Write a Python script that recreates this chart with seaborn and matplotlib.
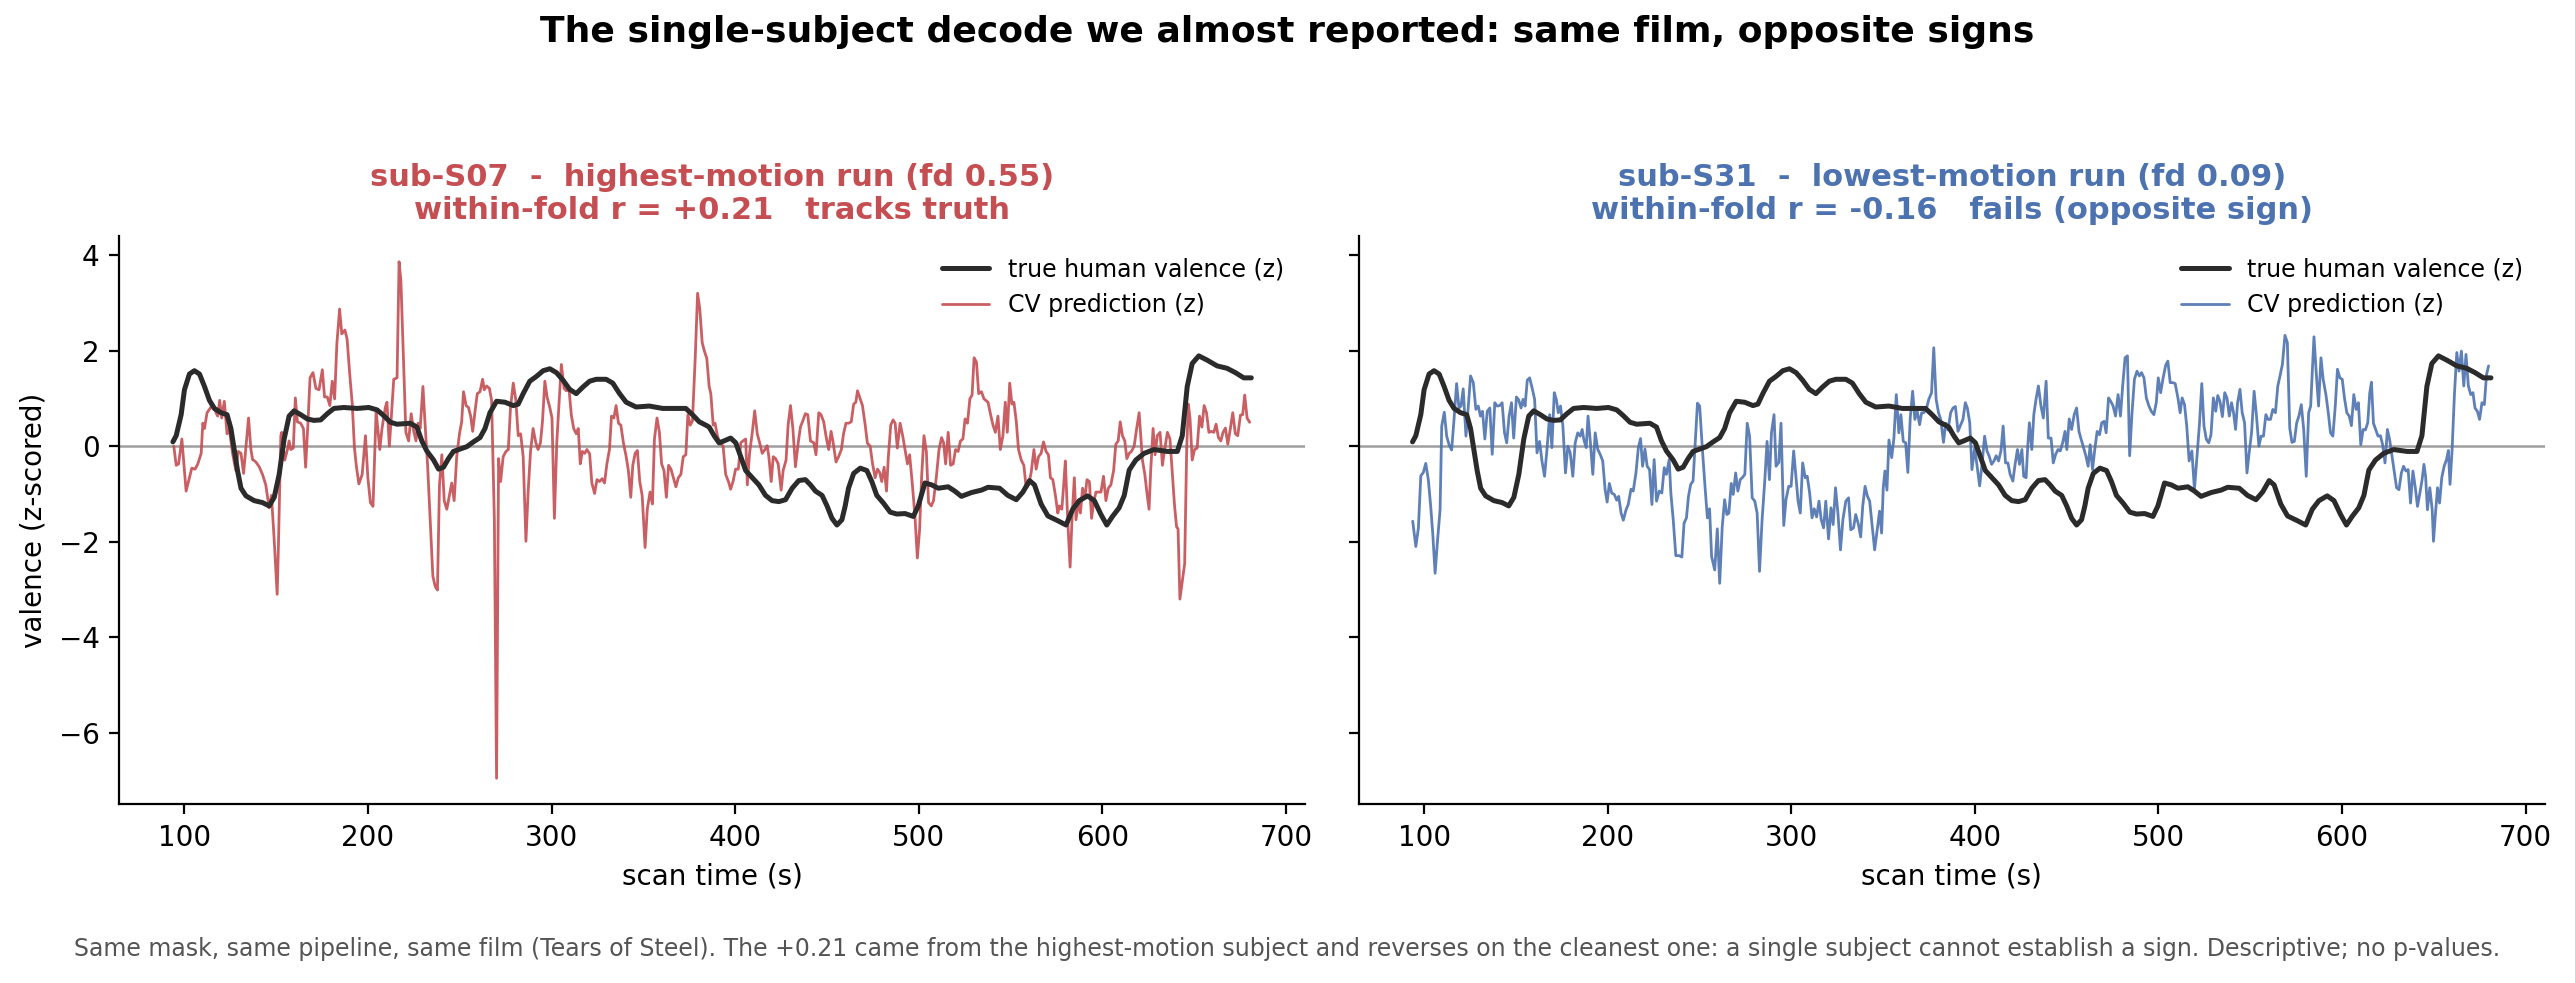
import matplotlib
matplotlib.use("Agg")
import matplotlib.pyplot as plt
import pandas as pd
import seaborn as sns


# true human valence (z), shared by both panels
true_t = [93.7, 95.5, 98.2, 100.0, 102.7, 105.4, 108.2, 110.9, 113.6, 116.3, 119.9, 123.2, 125.3, 127.1,
	128.9, 130.8, 133.5, 138.0, 142.5, 146.1, 148.9, 151.6, 154.3, 157.0, 159.7, 163.3, 166.9, 170.5,
	174.2, 177.8, 181.4, 186.8, 194.1, 200.4, 204.9, 208.5, 212.2, 215.8, 223.0, 226.6, 229.3, 232.0,
	235.7, 238.4, 241.1, 243.8, 246.5, 250.1, 253.8, 257.4, 261.0, 263.7, 266.4, 270.0, 274.6, 279.1,
	281.8, 284.5, 288.1, 291.7, 295.4, 299.0, 302.6, 306.2, 309.8, 313.4, 317.1, 320.7, 324.3, 329.7,
	333.3, 337.0, 340.6, 346.0, 353.2, 360.5, 367.7, 373.1, 376.7, 380.4, 384.0, 385.8, 388.5, 391.2,
	393.9, 397.5, 400.3, 403.0, 405.7, 409.3, 412.9, 416.5, 420.1, 423.8, 427.4, 431.0, 434.6, 438.2,
	441.0, 443.7, 447.3, 450.0, 452.7, 455.4, 458.1, 459.9, 461.7, 464.5, 468.1, 471.7, 474.4, 477.1,
	480.7, 484.4, 488.0, 492.5, 497.0, 499.7, 503.3, 507.0, 510.6, 516.0, 519.6, 523.2, 528.7, 534.1,
	537.7, 544.0, 548.5, 553.1, 556.7, 560.3, 563.0, 566.6, 570.3, 575.7, 580.2, 583.8, 587.4, 591.9,
	595.6, 599.2, 602.4, 605.5, 609.1, 611.9, 614.6, 618.2, 622.7, 628.1, 635.4, 640.8, 643.5, 646.2,
	648.9, 652.5, 657.1, 662.5, 667.9, 672.4, 677.0, 681.1]
true_v = [0.09, 0.22, 0.66, 1.18, 1.51, 1.58, 1.51, 1.25, 0.96, 0.79, 0.70, 0.66, 0.37, -0.07,
	-0.51, -0.88, -1.04, -1.14, -1.18, -1.25, -1.07, -0.59, 0.15, 0.63, 0.74, 0.66, 0.57, 0.54,
	0.55, 0.68, 0.79, 0.81, 0.79, 0.81, 0.76, 0.64, 0.50, 0.46, 0.48, 0.40, 0.11, -0.10,
	-0.29, -0.48, -0.44, -0.26, -0.11, -0.06, -0.01, 0.09, 0.18, 0.37, 0.70, 0.94, 0.92, 0.85,
	0.88, 1.10, 1.36, 1.46, 1.58, 1.62, 1.54, 1.38, 1.19, 1.10, 1.24, 1.36, 1.40, 1.40,
	1.32, 1.10, 0.92, 0.82, 0.84, 0.79, 0.79, 0.79, 0.66, 0.51, 0.44, 0.40, 0.22, 0.07,
	0.11, 0.17, 0.07, -0.22, -0.51, -0.66, -0.81, -1.03, -1.14, -1.16, -1.12, -0.88, -0.72, -0.70,
	-0.81, -0.94, -1.03, -1.25, -1.51, -1.65, -1.54, -1.25, -0.88, -0.57, -0.46, -0.51, -0.74, -1.03,
	-1.19, -1.38, -1.42, -1.41, -1.47, -1.25, -0.77, -0.81, -0.88, -0.85, -0.94, -1.05, -0.97, -0.92,
	-0.86, -0.88, -1.03, -1.12, -0.96, -0.72, -0.81, -1.21, -1.46, -1.56, -1.65, -1.32, -1.14, -1.04,
	-1.14, -1.43, -1.65, -1.47, -1.29, -1.03, -0.50, -0.29, -0.15, -0.07, -0.11, -0.11, 0.22, 1.25,
	1.73, 1.89, 1.80, 1.68, 1.63, 1.54, 1.43, 1.43]

# sub-S07 cross-validated prediction (z)
s07_t = [94.2, 95.5, 96.8, 98.6, 99.7, 100.9, 102.7, 104.0, 105.8, 107.3, 109.1, 110.0, 110.9, 112.3,
	114.5, 115.9, 117.2, 118.1, 119.2, 120.3, 121.7, 123.2, 124.4, 126.2, 128.0, 129.3, 130.8, 132.2,
	134.9, 136.2, 137.1, 138.9, 140.7, 142.5, 144.3, 146.1, 147.4, 148.8, 150.5, 151.2, 152.5, 153.0,
	154.6, 156.1, 157.0, 157.9, 159.3, 160.4, 161.5, 163.3, 164.8, 166.0, 167.3, 168.4, 170.0, 171.6,
	173.3, 175.1, 176.3, 177.8, 179.2, 180.5, 181.8, 183.0, 184.5, 185.7, 187.4, 188.6, 190.1, 191.4,
	192.6, 193.7, 195.0, 196.8, 198.6, 199.9, 201.3, 202.7, 204.4, 206.4, 207.6, 209.4, 210.3, 211.6,
	212.5, 214.0, 215.8, 216.9, 217.9, 219.0, 220.6, 222.1, 223.5, 224.8, 226.1, 227.2, 228.4, 229.9,
	231.1, 232.4, 235.3, 236.6, 237.8, 238.9, 240.2, 241.5, 242.9, 244.3, 245.6, 246.9, 248.3, 249.8,
	251.0, 252.0, 253.4, 254.7, 255.9, 257.0, 258.3, 259.5, 261.0, 262.4, 263.3, 264.6, 266.1, 267.3,
	268.8, 270.0, 271.1, 272.2, 273.6, 275.1, 276.4, 277.6, 279.1, 280.5, 281.8, 283.1, 284.5, 286.0,
	287.2, 288.5, 289.9, 291.4, 292.6, 293.9, 295.0, 296.3, 297.5, 299.0, 300.2, 301.5, 302.8, 304.0,
	305.3, 306.8, 308.0, 309.5, 310.7, 312.0, 313.4, 314.5, 315.6, 316.7, 318.0, 319.2, 320.7, 321.9,
	323.4, 324.7, 326.1, 327.5, 328.8, 330.1, 331.5, 332.6, 333.9, 335.1, 336.4, 337.7, 339.1, 340.6,
	341.8, 343.1, 344.2, 345.5, 346.7, 348.0, 349.3, 350.9, 352.1, 353.6, 354.9, 356.0, 357.4, 358.7,
	359.9, 361.2, 362.5, 363.7, 365.0, 366.3, 367.7, 369.0, 370.4, 371.7, 373.1, 374.2, 375.5, 376.7,
	378.2, 379.5, 380.7, 382.0, 383.2, 384.5, 385.8, 386.7, 388.0, 389.0, 390.3, 391.6, 393.4, 394.8,
	396.3, 397.5, 398.8, 400.2, 401.7, 403.0, 404.2, 405.7, 406.6, 407.8, 409.3, 410.6, 412.0, 413.3,
	414.7, 416.2, 417.4, 418.3, 419.6, 420.7, 422.0, 423.4, 425.0, 426.1, 427.7, 428.8, 430.1, 431.4,
	432.8, 434.3, 435.5, 437.0, 438.2, 439.5, 441.0, 442.8, 444.0, 445.5, 446.7, 448.2, 449.4, 450.9,
	452.2, 453.2, 454.9, 456.3, 457.8, 459.0, 460.3, 461.7, 463.2, 464.5, 465.7, 466.6, 468.1, 469.3,
	470.8, 472.0, 473.5, 474.8, 476.2, 477.5, 478.7, 479.8, 481.1, 482.4, 483.4, 484.7, 486.0, 487.1,
	488.3, 489.8, 491.2, 492.5, 493.8, 495.0, 496.5, 497.9, 499.2, 500.4, 501.5, 502.8, 504.1, 505.3,
	506.8, 508.0, 509.5, 511.0, 512.4, 513.5, 514.6, 516.0, 517.3, 518.7, 520.0, 521.4, 522.7, 524.0,
	525.2, 526.5, 527.8, 529.0, 530.1, 531.4, 532.6, 534.1, 535.5, 537.7, 539.1, 540.4, 541.7, 543.1,
	544.4, 545.8, 547.1, 548.2, 549.5, 550.7, 551.8, 553.1, 554.3, 555.8, 557.2, 558.5, 559.8, 561.2,
	562.7, 563.9, 565.2, 566.6, 567.9, 569.3, 570.6, 571.7, 573.0, 574.4, 575.7, 576.6, 577.9, 578.9,
	579.8, 581.1, 582.4, 583.5, 584.7, 585.6, 586.9, 588.0, 589.2, 590.5, 591.6, 592.9, 594.1, 595.2,
	596.5, 597.9, 599.2, 600.6, 601.9, 603.2, 604.6, 606.1, 607.3, 608.6, 609.7, 610.9, 612.2, 613.3,
	614.6, 615.8, 617.3, 618.5, 620.0, 620.9, 621.8, 623.1, 624.2, 625.4, 626.3, 627.6, 628.7, 629.9,
	631.4, 632.7, 633.9, 635.4, 636.8, 638.1, 639.3, 640.4, 641.2, 642.2, 643.5, 644.8, 645.9, 646.8,
	647.7, 648.9, 650.2, 651.6, 652.9, 654.2, 655.4, 656.7, 658.0, 659.4, 660.7, 661.9, 663.2, 664.5,
	665.7, 667.0, 668.3, 669.7, 671.0, 672.4, 673.7, 675.2, 676.4, 677.5, 678.8, 680.2]
s07_v = [0.00, -0.40, -0.37, 0.15, -0.37, -0.94, -0.66, -0.46, -0.48, -0.37, -0.15, 0.48, 0.37, 0.70,
	0.82, 0.85, 0.70, 0.63, 0.96, 0.59, 0.94, 0.26, 0.37, -0.15, -0.51, -0.11, -0.15, -0.57,
	0.59, -0.07, -0.28, -0.33, -0.43, -0.59, -0.81, -1.29, -1.03, -1.91, -3.10, -2.06, 0.22, 0.29,
	-0.29, -0.07, 0.11, -0.07, -0.04, 1.01, 0.51, 0.48, 0.37, -0.44, 0.51, 1.43, 1.54, 1.21,
	1.18, 1.60, 1.03, 1.03, 0.85, 1.36, 0.99, 2.13, 2.87, 2.35, 2.43, 2.24, 1.47, 0.88,
	-0.04, -0.44, -0.79, -0.59, 0.22, -0.66, -1.18, -1.26, 0.74, -0.07, 0.37, 0.81, 0.92, 0.00,
	0.51, 1.40, 1.43, 3.86, 3.46, 2.17, 0.29, 0.11, 0.68, 0.33, 0.11, 0.48, 0.37, 1.25,
	0.44, -0.37, -2.72, -2.94, -3.01, -0.81, -0.18, -1.14, -1.32, -1.03, -0.77, -1.14, -0.22, 0.26,
	0.51, 1.14, 0.85, 0.81, 0.63, 0.31, 0.74, 1.10, 1.14, 1.40, 1.18, 1.26, 1.21, 0.96,
	-1.54, -6.95, -0.26, -0.74, -0.22, -0.11, -0.07, 0.81, 1.32, 0.96, 0.22, 0.26, -0.22, -1.99,
	-0.96, -0.11, 0.37, 0.07, -0.07, 0.07, 0.51, 1.36, 1.03, 0.81, 0.59, -1.51, 0.07, 0.88,
	1.71, 1.21, 1.16, 1.18, 0.66, 0.37, 0.26, 0.37, -0.37, -0.11, -0.15, -0.07, -0.16, -0.77,
	-0.99, -0.70, -0.74, -0.68, -0.77, -0.37, -0.07, 0.63, 0.59, 0.85, 0.48, 0.44, 0.07, -0.22,
	-0.51, -1.07, -0.40, -0.15, -0.09, -0.74, -1.03, -2.12, -1.32, -0.96, -1.21, 0.15, 0.59, 0.29,
	-0.37, -0.51, -1.07, -0.40, -0.48, -0.66, -0.85, -0.66, -0.59, -0.22, -0.18, 0.66, 0.44, 0.53,
	1.84, 3.20, 2.87, 2.17, 1.99, 1.84, 1.25, 1.10, 0.44, 0.48, 0.22, 0.07, 0.00, -0.59,
	-0.74, -0.90, -0.74, -0.48, -0.48, 0.07, 0.11, 0.15, -0.81, -0.15, 0.29, 0.74, 0.26, 0.07,
	-0.15, -0.07, 0.01, -0.22, -0.74, -0.22, -0.26, -0.37, -0.92, -0.51, -0.29, 0.44, 0.85, 0.37,
	-0.43, 0.07, 0.40, 0.55, 0.68, 0.66, 0.11, 0.07, -0.18, 0.70, 0.66, 0.51, 0.22, -0.07,
	0.31, 0.11, -0.33, -0.22, -0.07, 0.26, 0.48, 0.48, 0.51, 0.88, 0.92, 1.16, 0.99, 0.85,
	0.44, 0.06, 0.00, -0.37, -0.66, -0.48, -0.55, -0.74, -0.44, -0.94, -0.22, 0.44, 0.55, 0.48,
	-0.04, 0.48, 0.22, -0.07, -0.37, -0.18, -0.81, -1.47, -2.34, -1.76, -0.66, 0.22, -0.11, -1.18,
	-1.25, -1.14, -0.66, -0.07, 0.18, 0.07, -0.37, 0.29, -0.40, -0.37, -0.07, -0.11, 0.11, 0.15,
	0.57, 0.48, 0.99, 1.07, 1.85, 1.76, 1.10, 1.14, 0.99, 0.92, 0.66, 0.44, 0.29, 0.63,
	-0.07, 0.22, 0.92, 0.29, 1.32, 0.88, 0.92, 0.51, -0.07, -0.29, -0.40, -0.88, -0.81, -0.55,
	-0.07, -0.48, -0.22, -0.15, 0.09, -0.11, -0.18, -0.66, -0.70, -1.03, -1.40, -1.25, -1.32, -0.81,
	-0.31, -1.54, -2.53, -1.47, -0.66, -1.54, -1.14, -1.40, -0.88, -1.07, -0.70, -0.74, -1.51, -1.18,
	-0.96, -0.96, -0.96, -0.63, -1.14, -0.88, -0.81, -0.51, 0.04, 0.11, 0.51, 0.22, 0.11, -0.26,
	-0.15, -0.11, 0.00, 0.33, 0.70, 0.22, -0.29, -0.59, -0.96, -1.32, -0.51, 0.37, -0.18, 0.22,
	0.29, -0.40, -0.07, 0.29, 0.15, -0.59, -1.25, -1.69, -1.73, -3.20, -2.83, -2.46, -0.07, 0.88,
	0.59, -0.29, -0.07, -0.04, 0.63, 0.40, 0.85, 0.70, 0.29, 0.31, 0.29, 0.46, 0.18, 0.11,
	0.29, 0.38, 0.04, 0.37, 0.70, 0.26, 0.22, 0.65, 0.66, 1.07, 0.59, 0.50]

# sub-S31 cross-validated prediction (z)
s31_t = [93.8, 95.5, 96.9, 98.2, 99.6, 100.9, 102.3, 103.6, 104.7, 106.0, 107.2, 108.7, 109.6, 111.0,
	112.3, 113.6, 115.0, 116.3, 117.7, 119.0, 120.1, 121.3, 122.8, 124.1, 125.3, 126.8, 128.2, 129.5,
	130.7, 131.8, 133.1, 134.4, 135.8, 137.1, 138.5, 139.8, 141.2, 142.5, 143.8, 145.0, 146.3, 147.6,
	148.8, 150.3, 151.5, 152.8, 153.9, 155.0, 156.2, 157.5, 159.0, 160.2, 161.5, 162.9, 164.2, 165.6,
	166.9, 168.4, 169.6, 170.9, 172.0, 173.1, 174.3, 175.6, 177.0, 178.3, 179.6, 181.0, 182.3, 183.7,
	185.0, 186.1, 187.0, 188.3, 189.3, 190.6, 191.9, 193.2, 194.6, 195.9, 197.3, 198.6, 199.7, 200.9,
	202.2, 203.6, 204.9, 206.0, 207.3, 208.5, 210.0, 211.2, 212.7, 213.9, 215.4, 216.7, 217.9, 219.0,
	220.3, 221.5, 222.8, 224.1, 225.3, 226.6, 228.1, 229.5, 230.8, 232.0, 233.5, 234.4, 235.7, 237.1,
	238.9, 240.4, 241.6, 242.9, 244.0, 245.2, 246.5, 247.6, 248.9, 250.1, 251.6, 253.0, 254.3, 255.5,
	256.6, 258.3, 259.7, 261.0, 262.4, 263.7, 264.9, 266.0, 267.3, 268.4, 269.7, 270.9, 272.2, 273.3,
	274.7, 276.0, 277.3, 278.7, 280.1, 281.4, 282.7, 284.1, 285.6, 286.8, 288.1, 289.2, 290.6, 291.7,
	293.2, 294.4, 295.9, 297.1, 298.6, 299.9, 301.3, 302.6, 303.7, 304.9, 306.2, 307.6, 308.7, 310.0,
	311.3, 312.5, 313.8, 315.1, 316.3, 317.6, 318.8, 320.3, 321.6, 322.8, 324.1, 325.4, 326.8, 328.1,
	329.7, 331.2, 332.4, 333.9, 335.1, 336.6, 337.8, 338.9, 340.2, 341.5, 342.7, 344.2, 345.4, 346.9,
	348.1, 349.2, 350.1, 351.0, 352.1, 353.2, 354.7, 355.9, 357.2, 358.6, 359.7, 361.0, 362.3, 363.5,
	364.8, 366.1, 367.3, 368.6, 369.9, 371.0, 372.2, 373.7, 374.9, 376.4, 377.6, 378.9, 380.2, 381.4,
	382.9, 384.1, 385.4, 386.8, 388.1, 389.4, 390.8, 392.3, 393.5, 394.8, 395.9, 397.2, 398.4, 399.9,
	401.1, 402.6, 403.8, 405.3, 406.6, 407.8, 409.1, 410.4, 411.6, 412.9, 414.2, 415.4, 416.7, 418.0,
	419.2, 420.7, 421.9, 423.2, 424.3, 425.6, 426.6, 427.9, 428.8, 429.7, 431.0, 432.1, 433.3, 434.6,
	436.0, 437.3, 438.8, 440.0, 441.5, 442.7, 444.0, 445.3, 446.5, 447.8, 449.1, 450.1, 451.4, 452.7,
	454.1, 455.4, 456.7, 457.9, 459.2, 460.5, 461.7, 462.8, 464.1, 465.3, 466.6, 467.9, 469.1, 470.4,
	471.5, 472.8, 474.0, 475.3, 476.6, 478.0, 479.3, 480.5, 481.8, 483.1, 484.3, 485.6, 486.9, 488.3,
	489.6, 490.8, 492.1, 493.4, 494.8, 496.1, 497.5, 498.8, 499.9, 501.2, 502.4, 503.9, 505.1, 506.4,
	507.7, 509.1, 510.6, 511.8, 512.9, 514.2, 515.4, 516.7, 518.2, 519.6, 521.0, 522.3, 523.6, 524.8,
	526.1, 527.4, 528.6, 529.9, 531.2, 532.3, 533.5, 534.8, 536.1, 537.3, 538.6, 539.8, 540.9, 542.0,
	543.1, 544.4, 545.6, 546.9, 548.2, 549.4, 550.7, 552.1, 553.4, 554.7, 555.9, 557.2, 558.5, 559.7,
	561.0, 562.3, 563.7, 565.0, 566.2, 567.5, 568.9, 570.2, 571.5, 572.7, 574.0, 575.3, 576.5, 577.8,
	579.1, 580.5, 581.8, 582.9, 584.7, 586.0, 587.2, 588.5, 589.7, 591.2, 592.5, 593.7, 595.0, 596.3,
	597.5, 598.8, 600.1, 601.3, 602.6, 603.9, 605.1, 606.4, 607.7, 608.9, 610.2, 611.5, 612.7, 614.0,
	615.1, 616.0, 617.1, 618.3, 619.6, 620.9, 622.1, 623.4, 624.7, 625.9, 627.2, 628.5, 629.7, 631.0,
	632.3, 633.5, 634.8, 636.0, 637.3, 638.6, 639.9, 641.1, 642.4, 643.6, 644.6, 645.5, 646.5, 647.8,
	649.1, 649.8, 650.9, 652.0, 653.1, 654.3, 655.6, 656.9, 657.9, 658.8, 659.9, 661.2, 662.5, 663.7,
	665.0, 666.3, 667.5, 668.8, 670.1, 671.3, 672.4, 673.7, 674.9, 676.2, 677.5, 678.7, 679.8]
s31_v = [-1.57, -2.10, -1.71, -0.62, -0.55, -0.36, -0.70, -1.26, -1.82, -2.66, -2.03, -1.33, 0.42, 0.71,
	0.21, 0.03, -0.08, 0.56, 1.31, 0.80, 0.84, 1.20, 0.21, 0.84, 1.47, 1.33, 0.77, 0.84,
	0.63, 0.73, 0.15, 0.73, 0.80, -0.17, 0.91, 0.84, 0.85, 0.91, 0.28, 0.07, 0.63, 0.91,
	0.17, 1.03, 0.97, 0.80, 0.98, 0.84, 1.38, 1.43, 1.19, 0.98, -0.14, 0.10, -0.31, -0.63,
	-0.08, 0.66, -0.03, 1.12, 0.98, 0.70, 0.84, 0.42, -0.56, 0.00, -0.14, -0.63, 0.07, 0.28,
	0.21, 0.35, 0.14, -0.03, 0.63, 0.07, -0.59, 0.28, -0.07, -0.17, -0.31, -0.91, -1.17, -0.78,
	-0.98, -1.01, -1.13, -1.05, -1.40, -1.55, -1.33, -1.22, -0.90, -0.94, -0.56, -0.03, 0.16, -0.42,
	-0.06, -0.42, -0.49, -1.22, -0.28, -1.15, -0.94, -0.98, -0.45, -0.59, -0.28, -0.98, -1.54, -2.29,
	-2.29, -2.32, -1.61, -1.50, -1.05, -0.80, -0.73, 0.00, 0.90, 0.84, -0.07, -0.84, -1.50, -1.31,
	-2.31, -2.59, -1.73, -2.87, -1.68, -1.12, -1.43, -1.40, -0.78, -1.01, -0.56, -0.94, -0.70, -0.66,
	-0.59, 0.48, 0.21, -1.08, -1.15, -1.40, -2.62, -1.54, -0.70, 0.10, -0.70, 0.28, 0.66, -0.42,
	-0.34, 0.48, -1.66, -1.12, -0.84, -0.84, -0.10, -0.66, -1.15, -1.40, -0.35, -0.66, -0.63, -0.98,
	-1.50, -1.31, -1.48, -1.15, -1.54, -1.71, -1.15, -1.94, -1.29, -1.64, -0.87, -1.40, -2.17, -1.54,
	-1.15, -1.08, -1.75, -1.71, -1.43, -1.64, -1.90, -1.26, -0.84, -1.05, -1.15, -1.71, -2.17, -1.71,
	-1.36, -1.82, -0.87, -0.52, -0.92, 0.13, -0.24, 0.17, 1.08, 0.28, 0.66, 0.10, 0.07, -0.55,
	0.59, 1.15, 0.56, 0.73, 0.45, 0.70, 0.70, 0.80, 0.98, 1.12, 2.06, 0.98, 0.70, 0.56,
	0.08, 0.48, 0.34, 0.70, 0.80, 0.83, 0.31, 0.45, 0.56, 0.91, 0.80, 0.49, -0.49, -0.03,
	-0.38, -0.83, -0.42, 0.21, -0.10, -0.21, -0.38, -0.31, -0.20, -0.31, -0.10, 0.42, -0.35, -0.35,
	-0.59, -0.73, -0.38, -0.07, -0.38, -0.07, -0.63, -0.66, 0.00, 0.49, -0.07, 0.66, 0.98, 1.26,
	0.84, 0.59, 1.36, 0.17, 0.17, -0.35, -0.17, -0.07, -0.10, 0.07, 0.31, -0.07, 0.57, 0.35,
	0.66, 0.80, 0.31, 0.14, -0.03, -0.21, -0.42, 0.03, -0.49, -0.07, 0.31, 0.24, 0.49, 0.52,
	0.28, 1.01, 0.94, 0.84, 0.63, 1.08, 0.63, 1.26, 1.85, 1.89, -0.20, 0.70, 1.40, 1.57,
	1.47, 1.54, 1.43, 1.01, 0.84, 0.73, 0.66, 0.91, 1.43, 1.12, 1.40, 1.69, 1.78, 1.33,
	1.33, 1.31, 1.01, 0.70, 1.01, 0.87, 0.42, -0.31, -0.10, -0.91, -0.21, 0.45, 1.31, 0.42,
	0.14, 0.07, 0.24, 1.01, 0.73, 1.06, 0.94, 0.62, 1.12, 1.01, 0.63, 0.91, 0.70, 0.35,
	0.91, 1.19, 0.70, 0.49, -0.56, -0.14, 0.28, 1.15, 0.63, 0.00, 0.21, 0.21, 0.66, 0.56,
	0.56, 0.77, 0.70, 1.26, 1.47, 1.71, 2.32, 2.17, 0.38, 0.08, 0.10, 0.49, 0.63, 0.87,
	0.35, -0.63, 0.70, 0.84, 2.29, 1.50, 0.84, 1.85, 1.40, 1.08, 0.70, 0.28, 0.21, 0.84,
	1.61, 1.43, 1.40, 1.01, 0.70, 0.63, 0.43, 1.08, 0.77, 0.91, 0.03, 0.35, 0.34, 0.49,
	1.12, 1.34, 0.48, 0.35, 0.21, 0.22, 0.03, -0.35, 0.35, 0.14, -0.21, -0.56, -0.87, -0.91,
	-0.56, -0.42, -0.52, -0.49, -1.19, -0.52, -0.87, -1.26, -0.98, -0.70, -0.38, -0.63, -1.33, -0.87,
	-1.33, -1.99, -1.40, -0.87, -1.19, -0.66, -0.42, -0.28, -0.09, -0.80, -0.10, 1.08, 1.96, 1.57,
	1.99, 1.26, 1.92, 1.26, 1.08, 1.12, 0.80, 0.73, 0.56, 0.91, 0.87, 1.50, 1.68]

titles = [
	"sub-S07  -  highest-motion run (fd 0.55)\nwithin-fold r = +0.21   tracks truth",
	"sub-S31  -  lowest-motion run (fd 0.09)\nwithin-fold r = -0.16   fails (opposite sign)",
]
colors = ["#c44e52", "#4c72b0"]

footer = ("Same mask, same pipeline, same film (Tears of Steel). The +0.21 came from the highest-motion "
	"subject and reverses on the cleanest one: a single subject cannot establish a sign. Descriptive; no p-values.")


def draw_panel(ax, pred_t, pred_v, color, title):
	truth = pd.DataFrame({"t": true_t, "v": true_v})
	pred = pd.DataFrame({"t": pred_t, "v": pred_v})

	ax.axhline(0, color="0.62", lw=0.9, zorder=1)
	sns.lineplot(data=truth, x="t", y="v", ax=ax, color="#2b2b2b", lw=1.8,
				 label="true human valence (z)", zorder=3)
	sns.lineplot(data=pred, x="t", y="v", ax=ax, color=color, lw=1.0, alpha=0.9,
				 label="CV prediction (z)", zorder=2)

	ax.set_title(title, color=color, fontsize=11, fontweight="bold")
	ax.set_xlabel("scan time (s)", fontsize=10)
	ax.set_ylabel("")
	ax.legend(loc="upper right", frameon=False, fontsize=8.5)


if __name__ == '__main__':
	sns.set_style("ticks", {"axes.edgecolor": "black", "text.color": "black",
							"axes.labelcolor": "black", "xtick.color": "black", "ytick.color": "black"})
	plt.rcParams['font.family'] = ['DejaVu Sans']

	fig, axes = plt.subplots(1, 2, sharex=True, sharey=True, figsize=(12.875, 4.915), dpi=200)
	fig.subplots_adjust(left=0.0462, right=0.9883, bottom=0.182, top=0.760, wspace=0.045)

	draw_panel(axes[0], s07_t, s07_v, colors[0], titles[0])
	draw_panel(axes[1], s31_t, s31_v, colors[1], titles[1])
	axes[0].set_ylabel("valence (z-scored)", fontsize=10)
	sns.despine(fig=fig)

	fig.suptitle("The single-subject decode we almost reported: same film, opposite signs",
				 fontsize=13, fontweight="bold", y=0.985)
	fig.text(0.5, 0.035, footer, ha="center", va="center", fontsize=8.5, color="0.33")

	fig.savefig("out.png", dpi=200)
